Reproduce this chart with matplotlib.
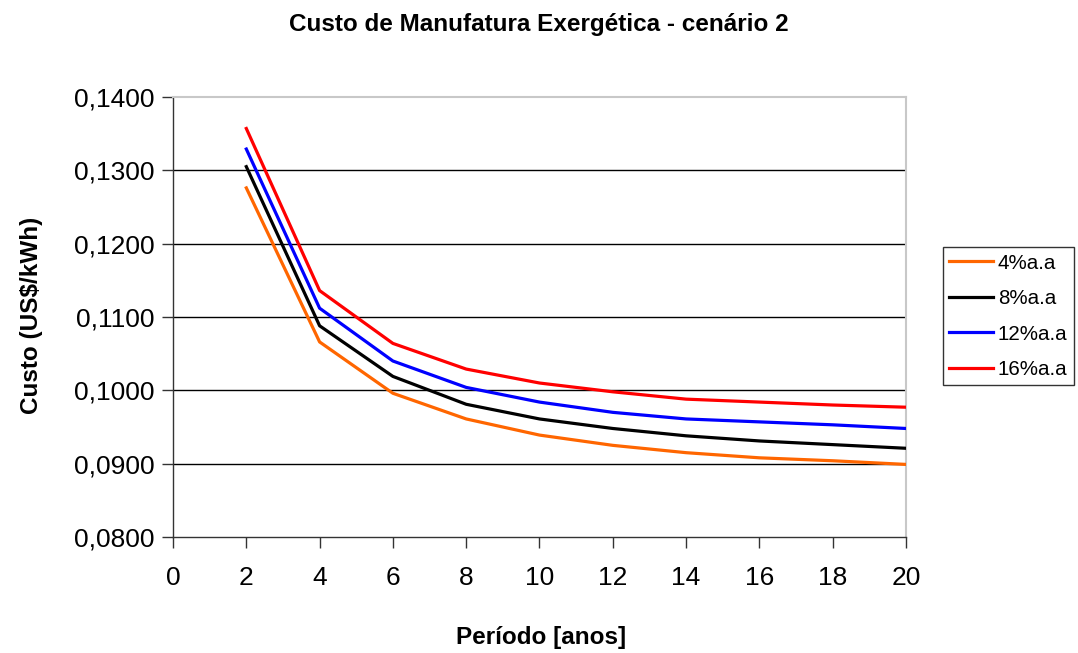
import matplotlib

matplotlib.use("Agg")
import matplotlib.pyplot as plt
from matplotlib.ticker import FuncFormatter

plt.rcParams["font.family"] = ["Liberation Sans", "DejaVu Sans"]

periodos = [2, 4, 6, 8, 10, 12, 14, 16, 18, 20]
custo_4 = [0.1276, 0.1066, 0.0996, 0.0961, 0.0939, 0.0925, 0.0915, 0.0908, 0.0904, 0.0899]
custo_8 = [0.1305, 0.1088, 0.1019, 0.0981, 0.0961, 0.0948, 0.0938, 0.0931, 0.0926, 0.0921]
custo_12 = [0.1329, 0.1112, 0.1040, 0.1004, 0.0984, 0.0970, 0.0961, 0.0957, 0.0953, 0.0948]
custo_16 = [0.1357, 0.1136, 0.1064, 0.1029, 0.1010, 0.0998, 0.0988, 0.0984, 0.0980, 0.0977]

series = [
    ("4%a.a", custo_4, "#ff6600"),
    ("8%a.a", custo_8, "#000000"),
    ("12%a.a", custo_12, "#0000ff"),
    ("16%a.a", custo_16, "#ff0000"),
]

fig = plt.figure(figsize=(10.78, 6.53), dpi=100)
ax = fig.add_axes([0.1605, 0.1776, 0.6799, 0.6739])

for label, valores, cor in series:
    ax.plot(periodos, valores, color=cor, linewidth=2.3, label=label, zorder=3)

ax.set_xlim(0, 20)
ax.set_ylim(0.08, 0.14)
ax.set_xticks(range(0, 21, 2))
ax.set_yticks([0.08, 0.09, 0.10, 0.11, 0.12, 0.13, 0.14])
ax.yaxis.set_major_formatter(FuncFormatter(lambda v, _: f"{v:.4f}".replace(".", ",")))

# black horizontal grid, not on the top edge
for v in [0.09, 0.10, 0.11, 0.12, 0.13]:
    ax.axhline(v, color="black", linewidth=1.0, zorder=1)

for side in ("top", "right"):
    ax.spines[side].set_color("#c8c8c8")
    ax.spines[side].set_linewidth(1.5)
for side in ("left", "bottom"):
    ax.spines[side].set_color("#333333")
    ax.spines[side].set_linewidth(1.0)

ax.tick_params(axis="both", direction="out", length=8, width=1.0, labelsize=19, color="#333333")
ax.tick_params(axis="x", pad=13)
ax.tick_params(axis="y", pad=5)

fig.text(0.5, 0.963, "Custo de Manufatura Exergética - cenário 2",
         ha="center", va="center", fontsize=17.5, fontweight="bold")
fig.text(0.502, 0.024, "Período [anos]", ha="center", va="center",
         fontsize=17.5, fontweight="bold")
fig.text(0.029, 0.517, "Custo (US$/kWh)", ha="center", va="center",
         rotation=90, fontsize=17.5, fontweight="bold")

leg = fig.legend(loc="upper left", bbox_to_anchor=(0.875, 0.621), frameon=True,
                 fancybox=False, fontsize=14.8, handlelength=2.1, handletextpad=0.25,
                 borderpad=0.3, labelspacing=0.8, borderaxespad=0)
leg.get_frame().set_edgecolor("black")
leg.get_frame().set_linewidth(1.0)

fig.savefig("out.png", dpi=100)
plt.close(fig)
